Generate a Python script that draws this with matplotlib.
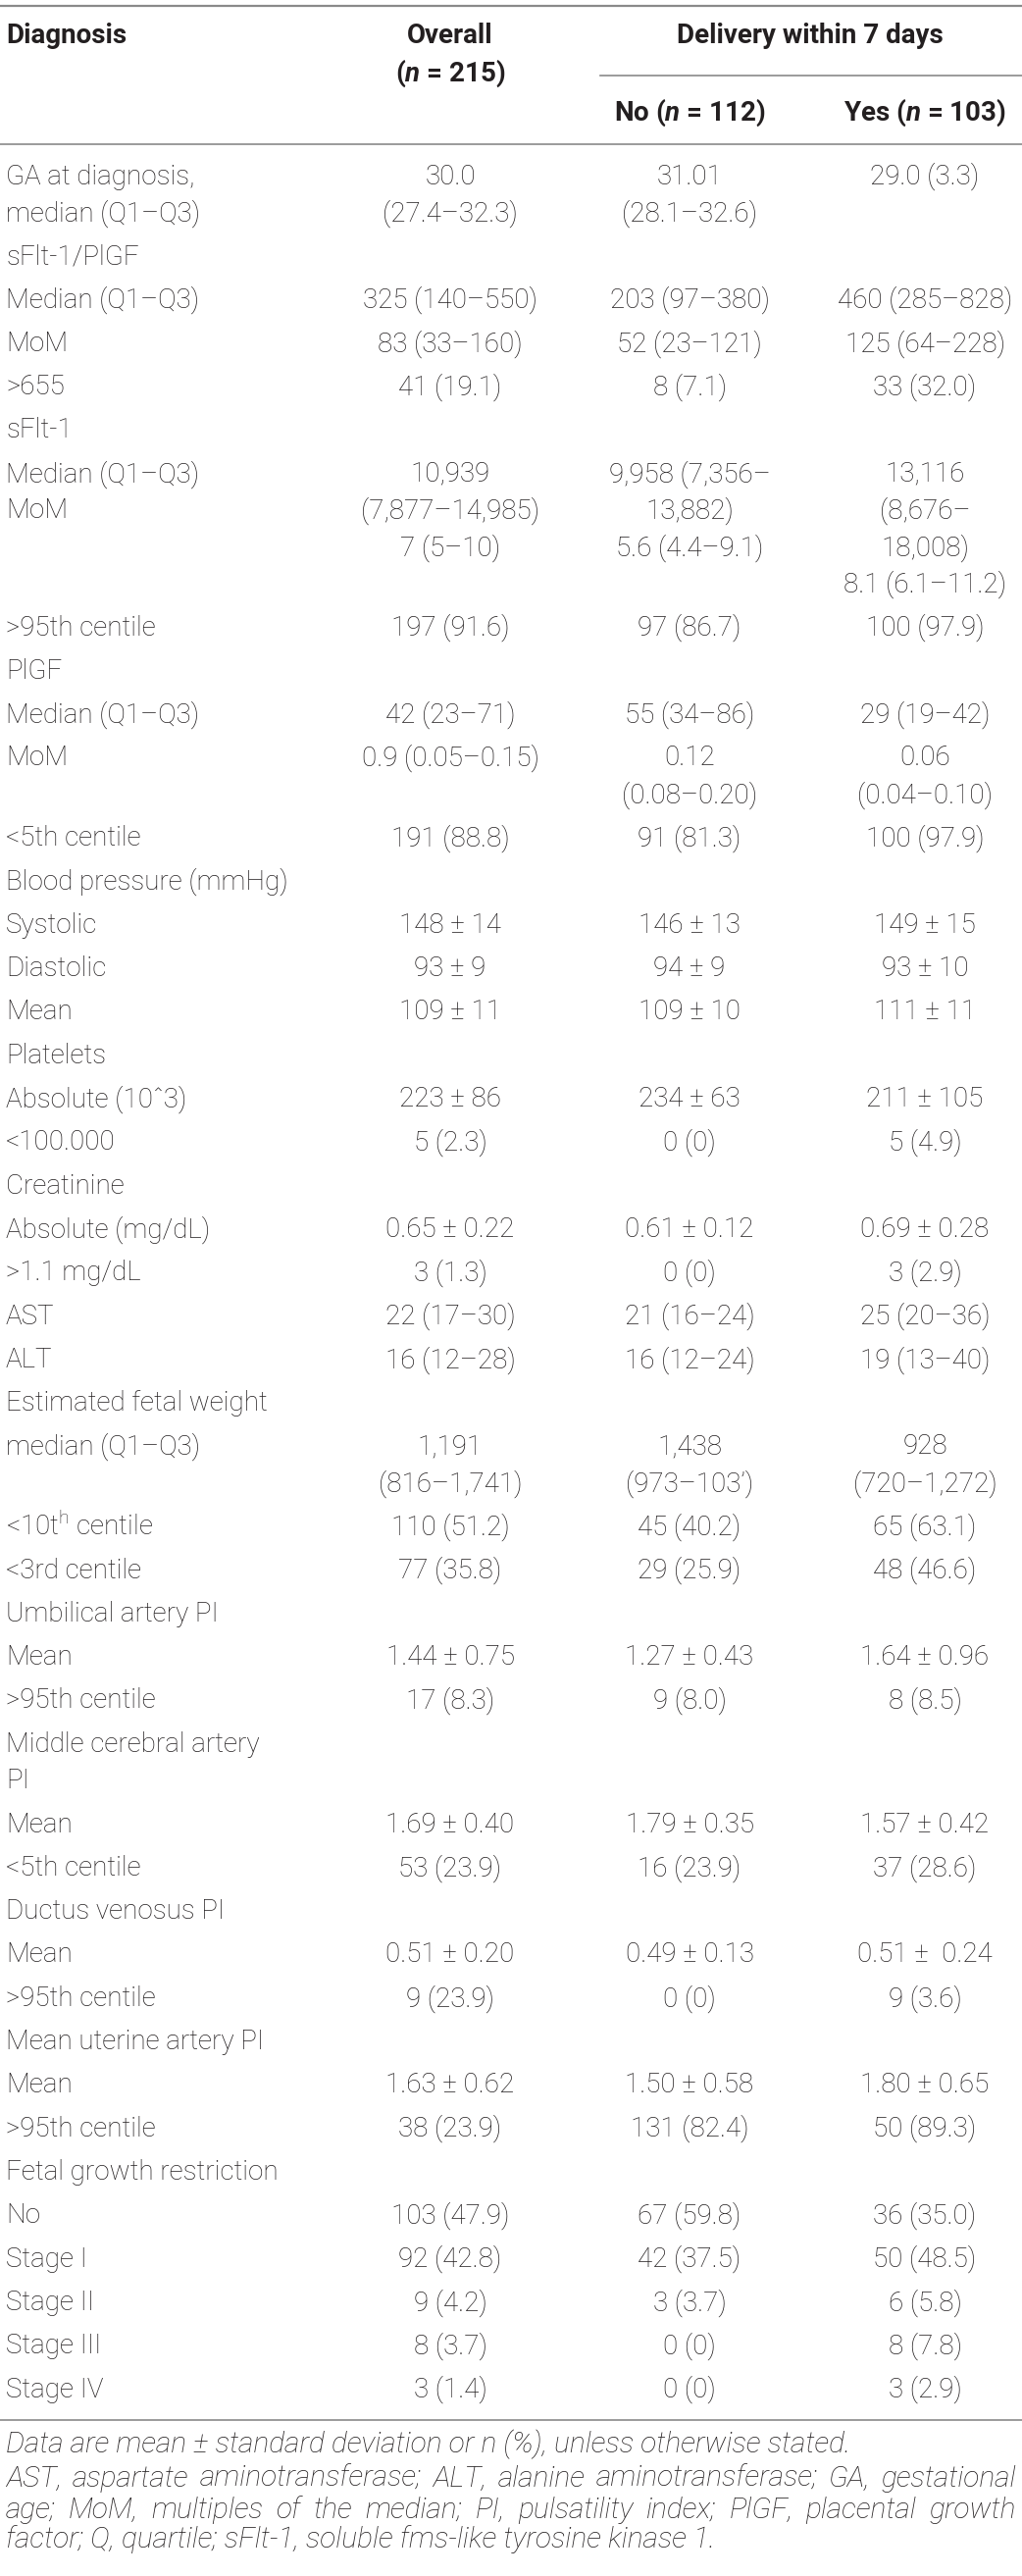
import matplotlib
matplotlib.use("Agg")
import matplotlib.pyplot as plt

# --- font setup ---
FAM = "Roboto"
plt.rcParams["font.family"] = [FAM, "DejaVu Sans"]
plt.rcParams["mathtext.fontset"] = "custom"
plt.rcParams["mathtext.rm"] = FAM + ":light"
plt.rcParams["mathtext.it"] = FAM + ":italic"
plt.rcParams["mathtext.bf"] = FAM + ":bold"
try:
    plt.rcParams["mathtext.bfit"] = FAM + ":italic:bold"
    NBOLD = r"$\mathbfit{n}$"
except KeyError:
    NBOLD = r"$\it{n}$"

# --- table content ---
header_groups = ["Diagnosis", "Overall", "Delivery within 7 days"]
header_n = ["(" + NBOLD + " = 215)", "No (" + NBOLD + " = 112)", "Yes (" + NBOLD + " = 103)"]

labels = [
    ["GA at diagnosis,", "median (Q1–Q3)"], ["sFlt-1/PlGF"], ["Median (Q1–Q3)"], ["MoM"], [">655"],
    ["sFlt-1"], ["Median (Q1–Q3)", "MoM"], [">95th centile"], ["PlGF"], ["Median (Q1–Q3)"], ["MoM"],
    ["<5th centile"], ["Blood pressure (mmHg)"], ["Systolic"], ["Diastolic"], ["Mean"], ["Platelets"],
    ["Absolute (10ˆ3)"], ["<100.000"], ["Creatinine"], ["Absolute (mg/dL)"], [">1.1 mg/dL"], ["AST"],
    ["ALT"], ["Estimated fetal weight"], ["median (Q1–Q3)"], [r"<10t$^{\rm h}$ centile"], ["<3rd centile"],
    ["Umbilical artery PI"], ["Mean"], [">95th centile"], ["Middle cerebral artery", "PI"], ["Mean"],
    ["<5th centile"], ["Ductus venosus PI"], ["Mean"], [">95th centile"], ["Mean uterine artery PI"],
    ["Mean"], [">95th centile"], ["Fetal growth restriction"], ["No"], ["Stage I"], ["Stage II"],
    ["Stage III"], ["Stage IV"],
]
overall = [
    ["30.0", "(27.4–32.3)"], [], ["325 (140–550)"], ["83 (33–160)"], ["41 (19.1)"],
    [], ["10,939", "(7,877–14,985)", "7 (5–10)"], ["197 (91.6)"], [], ["42 (23–71)"], ["0.9 (0.05–0.15)"],
    ["191 (88.8)"], [], ["148 ± 14"], ["93 ± 9"], ["109 ± 11"], [],
    ["223 ± 86"], ["5 (2.3)"], [], ["0.65 ± 0.22"], ["3 (1.3)"], ["22 (17–30)"],
    ["16 (12–28)"], [], ["1,191", "(816–1,741)"], ["110 (51.2)"], ["77 (35.8)"],
    [], ["1.44 ± 0.75"], ["17 (8.3)"], [], ["1.69 ± 0.40"],
    ["53 (23.9)"], [], ["0.51 ± 0.20"], ["9 (23.9)"], [],
    ["1.63 ± 0.62"], ["38 (23.9)"], [], ["103 (47.9)"], ["92 (42.8)"], ["9 (4.2)"],
    ["8 (3.7)"], ["3 (1.4)"],
]
no_group = [
    ["31.01", "(28.1–32.6)"], [], ["203 (97–380)"], ["52 (23–121)"], ["8 (7.1)"],
    [], ["9,958 (7,356–", "13,882)", "5.6 (4.4–9.1)"], ["97 (86.7)"], [], ["55 (34–86)"], ["0.12", "(0.08–0.20)"],
    ["91 (81.3)"], [], ["146 ± 13"], ["94 ± 9"], ["109 ± 10"], [],
    ["234 ± 63"], ["0 (0)"], [], ["0.61 ± 0.12"], ["0 (0)"], ["21 (16–24)"],
    ["16 (12–24)"], [], ["1,438", "(973–103’)"], ["45 (40.2)"], ["29 (25.9)"],
    [], ["1.27 ± 0.43"], ["9 (8.0)"], [], ["1.79 ± 0.35"],
    ["16 (23.9)"], [], ["0.49 ± 0.13"], ["0 (0)"], [],
    ["1.50 ± 0.58"], ["131 (82.4)"], [], ["67 (59.8)"], ["42 (37.5)"], ["3 (3.7)"],
    ["0 (0)"], ["0 (0)"],
]
yes_group = [
    ["29.0 (3.3)"], [], ["460 (285–828)"], ["125 (64–228)"], ["33 (32.0)"],
    [], ["13,116", "(8,676–", "18,008)", "8.1 (6.1–11.2)"], ["100 (97.9)"], [], ["29 (19–42)"], ["0.06", "(0.04–0.10)"],
    ["100 (97.9)"], [], ["149 ± 15"], ["93 ± 10"], ["111 ± 11"], [],
    ["211 ± 105"], ["5 (4.9)"], [], ["0.69 ± 0.28"], ["3 (2.9)"], ["25 (20–36)"],
    ["19 (13–40)"], [], ["928", "(720–1,272)"], ["65 (63.1)"], ["48 (46.6)"],
    [], ["1.64 ± 0.96"], ["8 (8.5)"], [], ["1.57 ± 0.42"],
    ["37 (28.6)"], [], ["0.51 ±  0.24"], ["9 (3.6)"], [],
    ["1.80 ± 0.65"], ["50 (89.3)"], [], ["36 (35.0)"], ["50 (48.5)"], ["6 (5.8)"],
    ["8 (7.8)"], ["3 (2.9)"],
]

footnotes = [
    "Data are mean ± standard deviation or n (%), unless otherwise stated.",
    "AST, aspartate aminotransferase; ALT, alanine aminotransferase; GA, gestational",
    "age; MoM, multiples of the median; PI, pulsatility index; PlGF, placental growth",
    "factor; Q, quartile; sFlt-1, soluble fms-like tyrosine kinase 1.",
]

# --- layout (pixels) ---
W, H = 1042, 2626
col_x = [6, 459, 703, 943]
TXT = "#231f20"
RULE = "#8a8a8a"
FS = 20
FS_NOTE = 21.5
first_y, pitch, wrap = 180, 44.3, 37.5

fig = plt.figure(figsize=(W / 100, H / 100), dpi=100)
ax = fig.add_axes([0, 0, 1, 1])
ax.set_xlim(0, W)
ax.set_ylim(H, 0)
ax.axis("off")

# rules
ax.plot([0, W], [6, 6], color=RULE, lw=1.6)
ax.plot([612, W], [77, 77], color=RULE, lw=1.2)
ax.plot([0, W], [147, 147], color=RULE, lw=1.2)

# header
ax.text(col_x[0], 37, header_groups[0], fontsize=FS, fontweight="bold", color=TXT, va="center", ha="left")
ax.text(col_x[1], 37, header_groups[1], fontsize=FS, fontweight="bold", color=TXT, va="center", ha="center")
ax.text((col_x[2] + col_x[3]) / 2 + 3, 37, header_groups[2], fontsize=FS, fontweight="bold", color=TXT,
        va="center", ha="center")
ax.text(col_x[1], 75, header_n[0], fontsize=FS, fontweight="bold", color=TXT, va="center", ha="center")
ax.text(col_x[2], 115, header_n[1], fontsize=FS, fontweight="bold", color=TXT, va="center", ha="center")
ax.text(col_x[3], 115, header_n[2], fontsize=FS, fontweight="bold", color=TXT, va="center", ha="center")

# body
y = first_y
for i in range(len(labels)):
    cells = [labels[i], overall[i], no_group[i], yes_group[i]]
    for c, lines in enumerate(cells):
        for k, s in enumerate(lines):
            ax.text(col_x[c], y + k * wrap, s, fontsize=FS, fontweight="light", color=TXT,
                    va="center", ha="left" if c == 0 else "center")
    nlines = max(len(l) for l in cells)
    last_y = y + (nlines - 1) * wrap
    y = last_y + pitch

bottom = last_y + 31
ax.plot([0, W], [bottom, bottom], color=RULE, lw=1.2)

# footnotes, justified except first and last line
renderer = fig.canvas.get_renderer()
note_y = [bottom + 25, bottom + 60, bottom + 92, bottom + 122]
for j, line in enumerate(footnotes):
    if j in (1, 2):
        words = line.split(" ")
        arts = [ax.text(0, note_y[j], w, fontsize=FS_NOTE, fontstyle="italic", fontweight="light",
                        color=TXT, va="center", ha="left") for w in words]
        widths = [a.get_window_extent(renderer).width for a in arts]
        gap = max((W - 6 - col_x[0] - sum(widths)) / (len(words) - 1), 4)
        x = col_x[0]
        for a, wd in zip(arts, widths):
            a.set_x(x)
            x += wd + gap
    else:
        ax.text(col_x[0], note_y[j], line, fontsize=FS_NOTE, fontstyle="italic", fontweight="light",
                color=TXT, va="center", ha="left")

fig.savefig("out.png", dpi=100, facecolor="white")
